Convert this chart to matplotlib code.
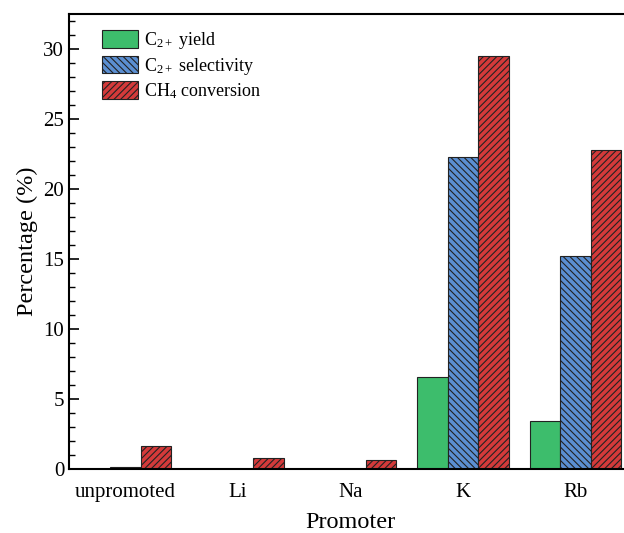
import matplotlib.pyplot as plt
from matplotlib.ticker import MultipleLocator
import numpy as np

# Dati
promoters = ['unpromoted', 'Li', 'Na', 'K', 'Rb']
c2_yield = [0.0, 0.0, 0.0, 6.55, 3.4]
c2_selectivity = [0.15, 0.0, 0.0, 22.3, 15.2]
ch4_conversion = [1.65, 0.8, 0.65, 29.5, 22.8]

plt.rcParams['font.family'] = ['Liberation Serif', 'DejaVu Serif']
plt.rcParams['mathtext.fontset'] = 'custom'
plt.rcParams['mathtext.rm'] = 'Liberation Serif'
plt.rcParams['mathtext.it'] = 'Liberation Serif:italic'
plt.rcParams['hatch.linewidth'] = 0.8

fig = plt.figure(figsize=(6.24, 5.33), dpi=100)
# l'asse esce leggermente dal bordo destro, come nell'originale
ax = fig.add_axes([69 / 624, 64 / 533, 563 / 624, 455 / 533])

x = np.arange(len(promoters))
w = 0.27

ax.bar(x - w, c2_yield, w, color='#3dbd6c', edgecolor='#222222', linewidth=0.8,
       label='C$_{2+}$ yield')
ax.bar(x, c2_selectivity, w, color='#5b8fd2', edgecolor='#222222', linewidth=0.8,
       hatch='\\\\\\\\\\', label='C$_{2+}$ selectivity')
ax.bar(x + w, ch4_conversion, w, color='#d43a3a', edgecolor='#222222', linewidth=0.8,
       hatch='/////', label='CH$_4$ conversion')

ax.set_xlim(-0.5, 4.5)
ax.set_ylim(0, 32.5)
ax.set_xticks(x)
ax.set_xticklabels(promoters)
ax.yaxis.set_major_locator(MultipleLocator(5))
ax.yaxis.set_minor_locator(MultipleLocator(1))
ax.tick_params(axis='y', which='major', direction='in', length=7, width=1.2, labelsize=15)
ax.tick_params(axis='y', which='minor', direction='in', length=4, width=1.0)
ax.tick_params(axis='x', length=0, labelsize=15, pad=10)

for s in ax.spines.values():
    s.set_linewidth(1.5)

ax.set_xlabel('Promoter', fontsize=17.5, labelpad=7)
ax.set_ylabel('Percentage (%)', fontsize=17.5, labelpad=4)

ax.legend(loc='upper left', frameon=False, fontsize=13, handlelength=2.0,
          handleheight=1.1, handletextpad=0.3, labelspacing=0.25,
          borderaxespad=0.5, bbox_to_anchor=(0.03, 1.0))

fig.savefig('out.png', dpi=100)
